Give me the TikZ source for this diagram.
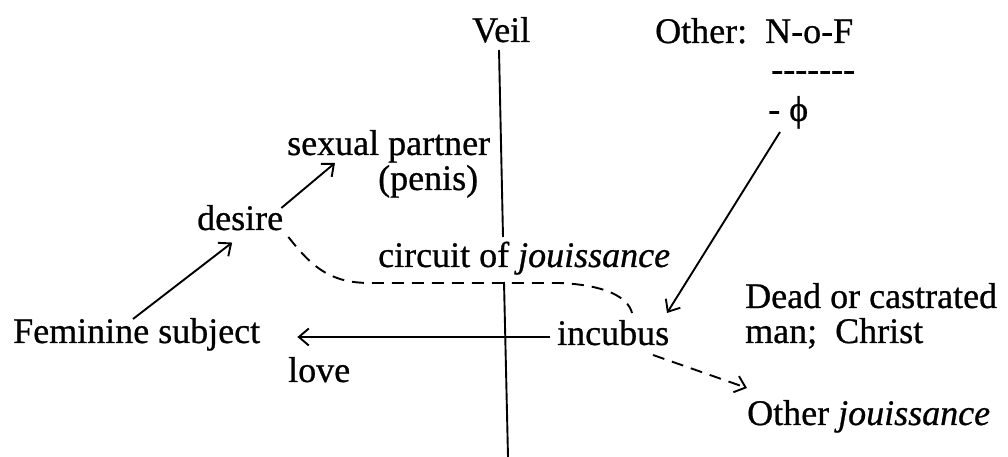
\documentclass[tikz,border=0pt]{standalone}
\usepackage{fontspec}
\setmainfont{Liberation Serif}[FakeBold=0.7, ItalicFeatures={FakeBold=0.7}]
\usetikzlibrary{arrows.meta}
\begin{document}
\begin{tikzpicture}[x=1pt,y=1pt,
  lbl/.style={anchor=base west,inner sep=0pt,font=\fontsize{36}{40}\selectfont},
  ln/.style={line width=1.9pt},
  tip/.style={-{Straight Barb[length=10pt,width=17pt,line width=1.9pt]}},
  arr/.style={ln,tip},
  dsh/.style={ln,dash pattern=on 12pt off 8pt}]
\useasboundingbox (0,0) rectangle (1008,457);
\node[lbl] (veil) at (472,415) {Veil};
\node[lbl] (other) at (655,414) {Other:\ \ N-o-F};
\node[lbl] (bar) at (771,376) {-{}-{}-{}-{}-{}-{}-};
\node[lbl] (phi) at (768,336) {- ϕ};
\node[lbl] (sp) at (287,302) {sexual partner};
\node[lbl] (penis) at (378,267) {(penis)};
\node[lbl] (desire) at (197,227) {desire};
\node[lbl] (circ) at (378,190) {circuit of \textit{jouissance}};
\node[lbl] (fem) at (13,114) {Feminine subject};
\node[lbl] (inc) at (557,112) {incubus};
\node[lbl] (love) at (288,75) {love};
\node[lbl] (dead) at (745,149) {Dead or castrated};
\node[lbl] (man) at (745,114) {man;\ \ Christ};
\node[lbl] (oj) at (747,32) {Other \textit{jouissance}};
% veil line
\coordinate (vt) at (499,407);
\coordinate (vm1) at (503,220);
\coordinate (vm2) at (504,175);
\coordinate (vb) at (508,0);
\draw[ln] (vt) -- (vm1);
\draw[ln] (vm2) -- (vb);
% arrows
\draw[arr] ([shift={(120pt,24pt)}]fem.base west) -- ([shift={(-8pt,-12pt)}]desire.south);
\draw[arr] ([shift={(-2pt,22pt)}]desire.base east) -- ([shift={(48pt,-8pt)}]sp.base west);
\draw[arr] ([shift={(12pt,-11pt)}]phi.base west) -- ([shift={(110pt,32pt)}]inc.base west);
\draw[arr] ([shift={(-7pt,8pt)}]inc.base west) -- ([shift={(37pt,6pt)}]fem.base east);
\draw[dsh,tip] ([shift={(96pt,-10pt)}]inc.base west) -- ([shift={(0pt,37pt)}]oj.base west);
\draw[dsh] ([shift={(5pt,-7pt)}]desire.base east) .. controls (312,190) and (330,174) .. (370,174) -- (560,174) .. controls (605,172) and (628,160) .. ([shift={(75pt,32pt)}]inc.base west);
\end{tikzpicture}
\end{document}
